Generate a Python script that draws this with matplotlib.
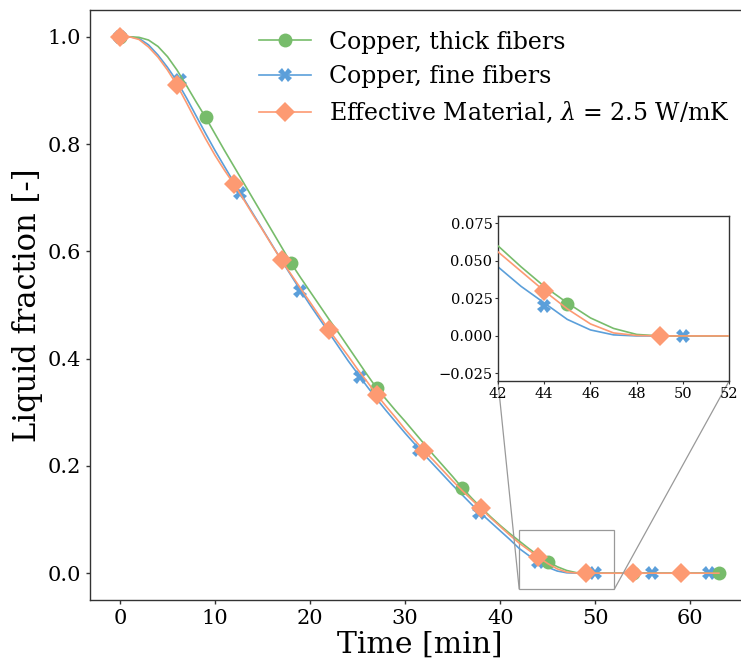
import matplotlib
matplotlib.use("Agg")
import matplotlib.pyplot as plt
from matplotlib.lines import Line2D
from mpl_toolkits.axes_grid1.inset_locator import mark_inset

plt.rcParams['font.family'] = ['DejaVu Serif']
plt.rcParams['mathtext.fontset'] = 'dejavuserif'

# ---- data ----
time_line = list(range(0, 64))

thick_line = [1.0, 1.0, 0.999, 0.994, 0.982, 0.963, 0.938, 0.909, 0.879, 0.85,
              0.819, 0.788, 0.758, 0.728, 0.698, 0.668, 0.638, 0.608, 0.578, 0.551,
              0.525, 0.499, 0.473, 0.448, 0.422, 0.396, 0.37, 0.345, 0.324, 0.303,
              0.283, 0.262, 0.241, 0.22, 0.2, 0.18, 0.159, 0.14, 0.122, 0.105,
              0.089, 0.074, 0.060, 0.046, 0.033, 0.022, 0.012, 0.005, 0.001, 0.0,
              0.0, 0.0, 0.0, 0.0, 0.0, 0.0, 0.0, 0.0, 0.0, 0.0,
              0.0, 0.0, 0.0, 0.0]

fine_line = [1.0, 1.0, 0.997, 0.985, 0.966, 0.943, 0.917, 0.886, 0.853, 0.82,
             0.788, 0.758, 0.728, 0.699, 0.67, 0.641, 0.612, 0.583, 0.555, 0.527,
             0.5, 0.474, 0.448, 0.422, 0.396, 0.372, 0.348, 0.325, 0.303, 0.282,
             0.261, 0.241, 0.221, 0.202, 0.183, 0.164, 0.146, 0.128, 0.111, 0.095,
             0.079, 0.063, 0.046, 0.033, 0.022, 0.011, 0.004, 0.0007, 0.0, 0.0,
             0.0, 0.0, 0.0, 0.0, 0.0, 0.0, 0.0, 0.0, 0.0, 0.0,
             0.0, 0.0, 0.0, 0.0]

eff_line = [1.0, 1.0, 0.995, 0.981, 0.962, 0.938, 0.91, 0.877, 0.843, 0.81,
            0.779, 0.751, 0.725, 0.697, 0.668, 0.64, 0.611, 0.583, 0.557, 0.531,
            0.505, 0.479, 0.453, 0.429, 0.405, 0.38, 0.357, 0.333, 0.311, 0.29,
            0.268, 0.248, 0.228, 0.21, 0.191, 0.172, 0.154, 0.137, 0.12, 0.103,
            0.087, 0.071, 0.056, 0.043, 0.030, 0.018, 0.008, 0.002, 0.0003, 0.0,
            0.0, 0.0, 0.0, 0.0, 0.0, 0.0, 0.0, 0.0, 0.0, 0.0,
            0.0, 0.0, 0.0, 0.0]

thick_mk_t = [0, 9, 18, 27, 36, 45, 54, 63]
thick_mk_v = [1.0, 0.85, 0.578, 0.345, 0.159, 0.021, 0.0, 0.0]

fine_mk_t = [0, 6.3, 12.6, 18.9, 25.2, 31.5, 37.8, 44, 50, 56, 62]
fine_mk_v = [1.0, 0.92, 0.709, 0.526, 0.366, 0.229, 0.112, 0.02, 0.0, 0.0, 0.0]

eff_mk_t = [0, 6, 12, 17, 22, 27, 32, 38, 44, 49, 54, 59]
eff_mk_v = [1.0, 0.91, 0.725, 0.583, 0.453, 0.333, 0.228, 0.122, 0.03, 0.0, 0.0, 0.0]

labels = ['Copper, thick fibers', 'Copper, fine fibers',
          r'Effective Material, $\lambda$ = 2.5 W/mK']
colors = ['#77bc6b', '#5b9fda', '#fd9a72']
markers = ['o', 'X', 'D']
msizes = [10, 10, 10]

lines = [thick_line, fine_line, eff_line]
mk_t = [thick_mk_t, fine_mk_t, eff_mk_t]
mk_v = [thick_mk_v, fine_mk_v, eff_mk_v]
zorders = [3, 2, 4]

# ---- figure ----
fig = plt.figure(figsize=(7.41, 6.61), dpi=100)
ax = fig.add_axes([0.1215, 0.0923, 0.889, 0.8926])

def draw(a, ms_scale=1.0):
    for i in range(3):
        a.plot(time_line, lines[i], color=colors[i], lw=1.2, zorder=zorders[i])
        a.plot(mk_t[i], mk_v[i], linestyle='none', marker=markers[i],
               color=colors[i], ms=msizes[i] * ms_scale, mew=0, zorder=zorders[i] + 0.5)

draw(ax)
ax.set_xlim(-3.15, 66.15)
ax.set_ylim(-0.05, 1.05)
ax.set_xticks([0, 10, 20, 30, 40, 50, 60])
ax.set_yticks([0.0, 0.2, 0.4, 0.6, 0.8, 1.0])
ax.tick_params(labelsize=15, length=3, width=1, color='#333333')
ax.set_xlabel('Time [min]', fontsize=21.5, labelpad=2)
ax.set_ylabel('Liquid fraction [-]', fontsize=22, labelpad=3)
for s in ax.spines.values():
    s.set_color('#333333')
    s.set_linewidth(1.0)

handles = [Line2D([], [], color=colors[i], lw=1.2, marker=markers[i],
                  ms=msizes[i], mew=0) for i in range(3)]
ax.legend(handles, labels, loc='upper left', bbox_to_anchor=(0.232, 0.993),
          frameon=False, fontsize=17, handlelength=2.2, handletextpad=0.75,
          labelspacing=0.5, borderaxespad=0.3)

# ---- inset ----
axins = fig.add_axes([0.672, 0.4236, 0.312, 0.25])
draw(axins, 1.0)
axins.set_xlim(42, 52)
axins.set_ylim(-0.03, 0.08)
axins.set_xticks([42, 44, 46, 48, 50, 52])
axins.set_yticks([-0.025, 0.0, 0.025, 0.05, 0.075])
axins.tick_params(labelsize=10.5, length=2.5, pad=1.5, color='#333333')
for s in axins.spines.values():
    s.set_color('#333333')
    s.set_linewidth(1.0)

mark_inset(ax, axins, loc1=3, loc2=4, fc='none', ec='0.6', lw=0.9)

fig.savefig('out.png', dpi=100)
